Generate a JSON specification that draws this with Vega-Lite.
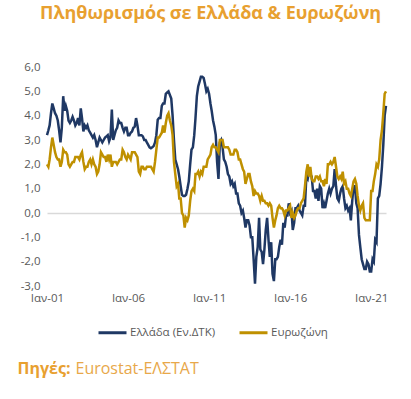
{
"$schema":"https://vega.github.io/schema/vega-lite/v6.json",
"width":339,"height":219,
"autosize":"none",
"padding":{"left":47,"top":67,"right":25,"bottom":113},
"background":"white",
"config":{"view":{"stroke":null},"font":"Open Sans"},
"title":{"text":"Πληθωρισμός σε Ελλάδα & Ευρωζώνη","color":"#E8A030","fontSize":18,"fontWeight":"bold","anchor":"start","frame":"group","offset":38,"dx":-7},
"data":{"values":[
{"d":"2001-01-01","gr":3.2,"ea":2.0},{"d":"2001-02-01","gr":3.4,"ea":1.9},{"d":"2001-03-01","gr":3.6,"ea":2.2},{"d":"2001-04-01","gr":4.1,"ea":2.7},{"d":"2001-05-01","gr":4.5,"ea":3.1},{"d":"2001-06-01","gr":4.3,"ea":2.8},{"d":"2001-07-01","gr":4.1,"ea":2.5},{"d":"2001-08-01","gr":4.0,"ea":2.3},{"d":"2001-09-01","gr":3.8,"ea":2.2},{"d":"2001-10-01","gr":3.4,"ea":2.2},{"d":"2001-11-01","gr":2.9,"ea":1.9},{"d":"2001-12-01","gr":3.5,"ea":2.1},
{"d":"2002-01-01","gr":4.8,"ea":2.6},{"d":"2002-02-01","gr":4.2,"ea":2.5},{"d":"2002-03-01","gr":4.4,"ea":2.5},{"d":"2002-04-01","gr":4.2,"ea":2.4},{"d":"2002-05-01","gr":3.8,"ea":2.0},{"d":"2002-06-01","gr":3.7,"ea":1.9},{"d":"2002-07-01","gr":3.8,"ea":2.0},{"d":"2002-08-01","gr":3.95,"ea":2.1},{"d":"2002-09-01","gr":3.8,"ea":2.1},{"d":"2002-10-01","gr":3.6,"ea":2.3},{"d":"2002-11-01","gr":3.7,"ea":2.3},{"d":"2002-12-01","gr":3.9,"ea":2.3},
{"d":"2003-01-01","gr":3.6,"ea":2.2},{"d":"2003-02-01","gr":4.3,"ea":2.4},{"d":"2003-03-01","gr":3.9,"ea":2.5},{"d":"2003-04-01","gr":3.35,"ea":2.1},{"d":"2003-05-01","gr":3.6,"ea":1.8},{"d":"2003-06-01","gr":3.5,"ea":1.9},{"d":"2003-07-01","gr":3.6,"ea":1.9},{"d":"2003-08-01","gr":3.4,"ea":2.1},{"d":"2003-09-01","gr":3.3,"ea":2.2},{"d":"2003-10-01","gr":3.2,"ea":2.0},{"d":"2003-11-01","gr":3.1,"ea":2.2},{"d":"2003-12-01","gr":3.2,"ea":2.0},
{"d":"2004-01-01","gr":3.0,"ea":1.9},{"d":"2004-02-01","gr":2.7,"ea":1.6},{"d":"2004-03-01","gr":2.9,"ea":1.7},{"d":"2004-04-01","gr":3.1,"ea":2.0},{"d":"2004-05-01","gr":3.0,"ea":2.5},{"d":"2004-06-01","gr":2.9,"ea":2.4},{"d":"2004-07-01","gr":3.0,"ea":2.3},{"d":"2004-08-01","gr":3.1,"ea":2.3},{"d":"2004-09-01","gr":3.15,"ea":2.1},{"d":"2004-10-01","gr":3.2,"ea":2.4},{"d":"2004-11-01","gr":2.95,"ea":2.2},{"d":"2004-12-01","gr":3.1,"ea":2.4},
{"d":"2005-01-01","gr":4.25,"ea":1.9},{"d":"2005-02-01","gr":3.0,"ea":2.1},{"d":"2005-03-01","gr":3.2,"ea":2.1},{"d":"2005-04-01","gr":3.4,"ea":2.1},{"d":"2005-05-01","gr":3.5,"ea":2.0},{"d":"2005-06-01","gr":3.8,"ea":2.1},{"d":"2005-07-01","gr":3.7,"ea":2.2},{"d":"2005-08-01","gr":3.7,"ea":2.2},{"d":"2005-09-01","gr":3.5,"ea":2.6},{"d":"2005-10-01","gr":3.35,"ea":2.5},{"d":"2005-11-01","gr":3.5,"ea":2.3},{"d":"2005-12-01","gr":3.5,"ea":2.2},
{"d":"2006-01-01","gr":3.2,"ea":2.4},{"d":"2006-02-01","gr":3.2,"ea":2.3},{"d":"2006-03-01","gr":3.3,"ea":2.2},{"d":"2006-04-01","gr":3.35,"ea":2.5},{"d":"2006-05-01","gr":3.5,"ea":2.5},{"d":"2006-06-01","gr":3.55,"ea":2.5},{"d":"2006-07-01","gr":3.9,"ea":2.4},{"d":"2006-08-01","gr":3.6,"ea":2.3},{"d":"2006-09-01","gr":3.2,"ea":1.7},{"d":"2006-10-01","gr":3.2,"ea":1.6},{"d":"2006-11-01","gr":3.2,"ea":1.9},{"d":"2006-12-01","gr":3.15,"ea":1.9},
{"d":"2007-01-01","gr":3.0,"ea":1.8},{"d":"2007-02-01","gr":3.0,"ea":1.8},{"d":"2007-03-01","gr":2.9,"ea":1.9},{"d":"2007-04-01","gr":2.8,"ea":1.9},{"d":"2007-05-01","gr":2.7,"ea":1.9},{"d":"2007-06-01","gr":2.66,"ea":1.9},{"d":"2007-07-01","gr":2.7,"ea":1.8},{"d":"2007-08-01","gr":2.75,"ea":1.7},{"d":"2007-09-01","gr":2.9,"ea":2.1},{"d":"2007-10-01","gr":3.2,"ea":2.6},{"d":"2007-11-01","gr":3.83,"ea":3.1},{"d":"2007-12-01","gr":3.9,"ea":3.1},
{"d":"2008-01-01","gr":3.9,"ea":3.2},{"d":"2008-02-01","gr":4.4,"ea":3.3},{"d":"2008-03-01","gr":4.5,"ea":3.6},{"d":"2008-04-01","gr":4.5,"ea":3.3},{"d":"2008-05-01","gr":4.9,"ea":3.7},{"d":"2008-06-01","gr":4.95,"ea":4.0},{"d":"2008-07-01","gr":5.0,"ea":4.1},{"d":"2008-08-01","gr":4.85,"ea":3.8},{"d":"2008-09-01","gr":4.7,"ea":3.6},{"d":"2008-10-01","gr":4.0,"ea":3.2},{"d":"2008-11-01","gr":3.0,"ea":2.1},{"d":"2008-12-01","gr":2.2,"ea":1.6},
{"d":"2009-01-01","gr":2.0,"ea":1.1},{"d":"2009-02-01","gr":1.8,"ea":1.2},{"d":"2009-03-01","gr":1.5,"ea":0.6},{"d":"2009-04-01","gr":1.1,"ea":0.6},{"d":"2009-05-01","gr":0.75,"ea":0.0},{"d":"2009-06-01","gr":0.7,"ea":-0.1},{"d":"2009-07-01","gr":0.7,"ea":-0.6},{"d":"2009-08-01","gr":0.75,"ea":-0.2},{"d":"2009-09-01","gr":1.0,"ea":-0.3},{"d":"2009-10-01","gr":1.3,"ea":-0.1},{"d":"2009-11-01","gr":2.0,"ea":0.5},{"d":"2009-12-01","gr":2.6,"ea":0.9},
{"d":"2010-01-01","gr":2.7,"ea":1.0},{"d":"2010-02-01","gr":3.2,"ea":0.9},{"d":"2010-03-01","gr":3.9,"ea":1.6},{"d":"2010-04-01","gr":4.8,"ea":1.6},{"d":"2010-05-01","gr":5.2,"ea":1.7},{"d":"2010-06-01","gr":5.4,"ea":1.5},{"d":"2010-07-01","gr":5.6,"ea":1.7},{"d":"2010-08-01","gr":5.6,"ea":1.6},{"d":"2010-09-01","gr":5.55,"ea":1.9},{"d":"2010-10-01","gr":5.3,"ea":1.9},{"d":"2010-11-01","gr":5.0,"ea":1.9},{"d":"2010-12-01","gr":5.1,"ea":2.2},
{"d":"2011-01-01","gr":4.9,"ea":2.3},{"d":"2011-02-01","gr":4.5,"ea":2.4},{"d":"2011-03-01","gr":4.2,"ea":2.7},{"d":"2011-04-01","gr":3.8,"ea":2.8},{"d":"2011-05-01","gr":3.55,"ea":2.7},{"d":"2011-06-01","gr":3.2,"ea":2.7},{"d":"2011-07-01","gr":2.1,"ea":2.6},{"d":"2011-08-01","gr":1.4,"ea":2.5},{"d":"2011-09-01","gr":2.9,"ea":3.0},{"d":"2011-10-01","gr":3.0,"ea":3.0},{"d":"2011-11-01","gr":2.7,"ea":3.0},{"d":"2011-12-01","gr":2.2,"ea":2.7},
{"d":"2012-01-01","gr":2.1,"ea":2.7},{"d":"2012-02-01","gr":1.9,"ea":2.7},{"d":"2012-03-01","gr":1.6,"ea":2.7},{"d":"2012-04-01","gr":1.5,"ea":2.6},{"d":"2012-05-01","gr":1.2,"ea":2.4},{"d":"2012-06-01","gr":1.3,"ea":2.4},{"d":"2012-07-01","gr":1.1,"ea":2.4},{"d":"2012-08-01","gr":1.2,"ea":2.6},{"d":"2012-09-01","gr":0.8,"ea":2.6},{"d":"2012-10-01","gr":0.8,"ea":2.5},{"d":"2012-11-01","gr":0.4,"ea":2.2},{"d":"2012-12-01","gr":0.3,"ea":2.2},
{"d":"2013-01-01","gr":0.0,"ea":2.0},{"d":"2013-02-01","gr":0.1,"ea":1.8},{"d":"2013-03-01","gr":-0.2,"ea":1.7},{"d":"2013-04-01","gr":-0.6,"ea":1.2},{"d":"2013-05-01","gr":-0.3,"ea":1.4},{"d":"2013-06-01","gr":-0.3,"ea":1.6},{"d":"2013-07-01","gr":-0.5,"ea":1.6},{"d":"2013-08-01","gr":-1.0,"ea":1.3},{"d":"2013-09-01","gr":-1.0,"ea":1.1},{"d":"2013-10-01","gr":-1.9,"ea":0.7},{"d":"2013-11-01","gr":-2.9,"ea":0.9},{"d":"2013-12-01","gr":-1.8,"ea":0.8},
{"d":"2014-01-01","gr":-1.4,"ea":0.8},{"d":"2014-02-01","gr":-0.2,"ea":0.7},{"d":"2014-03-01","gr":-1.5,"ea":0.5},{"d":"2014-04-01","gr":-1.6,"ea":0.7},{"d":"2014-05-01","gr":-2.1,"ea":0.5},{"d":"2014-06-01","gr":-1.5,"ea":0.5},{"d":"2014-07-01","gr":-0.7,"ea":0.4},{"d":"2014-08-01","gr":-0.2,"ea":0.4},{"d":"2014-09-01","gr":-1.1,"ea":0.3},{"d":"2014-10-01","gr":-1.8,"ea":0.4},{"d":"2014-11-01","gr":-1.2,"ea":0.3},{"d":"2014-12-01","gr":-2.5,"ea":-0.2},
{"d":"2015-01-01","gr":-2.8,"ea":-0.6},{"d":"2015-02-01","gr":-1.9,"ea":-0.3},{"d":"2015-03-01","gr":-1.9,"ea":-0.1},{"d":"2015-04-01","gr":-1.8,"ea":0.2},{"d":"2015-05-01","gr":-1.4,"ea":0.3},{"d":"2015-06-01","gr":-1.1,"ea":0.2},{"d":"2015-07-01","gr":-1.3,"ea":0.2},{"d":"2015-08-01","gr":-0.4,"ea":0.1},{"d":"2015-09-01","gr":-0.6,"ea":-0.1},{"d":"2015-10-01","gr":-0.1,"ea":0.1},{"d":"2015-11-01","gr":-0.1,"ea":0.1},{"d":"2015-12-01","gr":0.4,"ea":0.2},
{"d":"2016-01-01","gr":0.0,"ea":0.3},{"d":"2016-02-01","gr":0.1,"ea":-0.2},{"d":"2016-03-01","gr":-0.7,"ea":0.0},{"d":"2016-04-01","gr":-0.4,"ea":-0.2},{"d":"2016-05-01","gr":0.2,"ea":-0.1},{"d":"2016-06-01","gr":0.2,"ea":0.1},{"d":"2016-07-01","gr":0.3,"ea":0.2},{"d":"2016-08-01","gr":0.1,"ea":0.2},{"d":"2016-09-01","gr":0.0,"ea":0.4},{"d":"2016-10-01","gr":-0.1,"ea":0.5},{"d":"2016-11-01","gr":0.3,"ea":0.6},{"d":"2016-12-01","gr":0.3,"ea":1.1},
{"d":"2017-01-01","gr":1.5,"ea":1.7},{"d":"2017-02-01","gr":1.4,"ea":2.0},{"d":"2017-03-01","gr":1.7,"ea":1.5},{"d":"2017-04-01","gr":1.6,"ea":1.9},{"d":"2017-05-01","gr":1.5,"ea":1.4},{"d":"2017-06-01","gr":0.9,"ea":1.3},{"d":"2017-07-01","gr":0.9,"ea":1.3},{"d":"2017-08-01","gr":0.6,"ea":1.5},{"d":"2017-09-01","gr":1.0,"ea":1.5},{"d":"2017-10-01","gr":0.5,"ea":1.4},{"d":"2017-11-01","gr":1.1,"ea":1.5},{"d":"2017-12-01","gr":1.0,"ea":1.3},
{"d":"2018-01-01","gr":0.2,"ea":1.3},{"d":"2018-02-01","gr":0.4,"ea":1.1},{"d":"2018-03-01","gr":0.2,"ea":1.4},{"d":"2018-04-01","gr":0.5,"ea":1.2},{"d":"2018-05-01","gr":0.8,"ea":2.0},{"d":"2018-06-01","gr":1.0,"ea":2.0},{"d":"2018-07-01","gr":0.8,"ea":2.1},{"d":"2018-08-01","gr":1.0,"ea":2.0},{"d":"2018-09-01","gr":1.1,"ea":2.1},{"d":"2018-10-01","gr":1.8,"ea":2.3},{"d":"2018-11-01","gr":1.1,"ea":1.9},{"d":"2018-12-01","gr":0.6,"ea":1.5},
{"d":"2019-01-01","gr":0.5,"ea":1.4},{"d":"2019-02-01","gr":0.8,"ea":1.5},{"d":"2019-03-01","gr":1.0,"ea":1.4},{"d":"2019-04-01","gr":1.1,"ea":1.7},{"d":"2019-05-01","gr":0.6,"ea":1.2},{"d":"2019-06-01","gr":0.2,"ea":1.3},{"d":"2019-07-01","gr":0.3,"ea":1.0},{"d":"2019-08-01","gr":0.1,"ea":1.0},{"d":"2019-09-01","gr":0.2,"ea":0.8},{"d":"2019-10-01","gr":-0.3,"ea":0.7},{"d":"2019-11-01","gr":0.5,"ea":1.0},{"d":"2019-12-01","gr":1.1,"ea":1.3},
{"d":"2020-01-01","gr":1.1,"ea":1.4},{"d":"2020-02-01","gr":0.4,"ea":1.2},{"d":"2020-03-01","gr":0.2,"ea":0.7},{"d":"2020-04-01","gr":-0.9,"ea":0.3},{"d":"2020-05-01","gr":-1.4,"ea":0.1},{"d":"2020-06-01","gr":-1.9,"ea":0.3},{"d":"2020-07-01","gr":-2.1,"ea":0.4},{"d":"2020-08-01","gr":-2.3,"ea":-0.2},{"d":"2020-09-01","gr":-2.3,"ea":-0.3},{"d":"2020-10-01","gr":-2.0,"ea":-0.3},{"d":"2020-11-01","gr":-2.1,"ea":-0.3},{"d":"2020-12-01","gr":-2.4,"ea":-0.3},
{"d":"2021-01-01","gr":-2.4,"ea":0.9},{"d":"2021-02-01","gr":-1.9,"ea":0.9},{"d":"2021-03-01","gr":-2.0,"ea":1.3},{"d":"2021-04-01","gr":-1.1,"ea":1.6},{"d":"2021-05-01","gr":-1.2,"ea":2.0},{"d":"2021-06-01","gr":0.6,"ea":1.9},{"d":"2021-07-01","gr":0.7,"ea":2.2},{"d":"2021-08-01","gr":1.2,"ea":3.0},{"d":"2021-09-01","gr":1.9,"ea":3.4},{"d":"2021-10-01","gr":2.8,"ea":4.1},{"d":"2021-11-01","gr":4.0,"ea":4.9},{"d":"2021-12-01","gr":4.4,"ea":5.0}
]},
"transform":[{"fold":["gr","ea"],"as":["key","v"]}],
"mark":{"type":"line","strokeWidth":2.5},
"encoding":{
"x":{"field":"d","type":"temporal","scale":{"type":"utc","nice":false,"domain":[{"year":2001,"month":1,"date":1,"utc":true},{"year":2021,"month":12,"date":1,"utc":true}]},
"axis":{"values":[{"year":2001,"month":1,"date":1,"utc":true},{"year":2006,"month":1,"date":1,"utc":true},{"year":2011,"month":1,"date":1,"utc":true},{"year":2016,"month":1,"date":1,"utc":true},{"year":2021,"month":1,"date":1,"utc":true}],
"labelExpr":"'Ιαν-' + utcFormat(datum.value, '%y')","labelFlush":false,"domain":false,"ticks":false,"grid":false,"labelPadding":6,"labelColor":"#595959","labelFontSize":11.5,
"title":"Eurostat-ΕΛΣΤΑΤ","titleX":28,"titleY":87,"titleAlign":"left","titleAnchor":"start","titleBaseline":"alphabetic","titleFontSize":16,"titleFontWeight":"normal","titleColor":"#E8A84A"}},
"y":{"field":"v","type":"quantitative","scale":{"domain":[-3,6],"nice":false,"zero":false},
"axis":{"values":[-3,-2,-1,0,1,2,3,4,5,6],"labelExpr":"(datum.value < 0 ? '-' : '') + abs(datum.value) + ',0'","domain":false,"ticks":false,"grid":true,"gridColor":"#D9D9D9","gridWidth":1.5,"gridOpacity":{"condition":{"test":"datum.value === 0","value":1},"value":0},"labelPadding":7,"labelColor":"#595959","labelFontSize":11.5,
"title":"Πηγές:","titleAngle":0,"titleX":-30,"titleY":306,"titleAlign":"left","titleAnchor":"start","titleBaseline":"alphabetic","titleFontSize":16,"titleFontWeight":"bold","titleColor":"#E8A030"}},
"color":{"field":"key","type":"nominal","scale":{"domain":["gr","ea"],"range":["#1F3864","#BF9000"]},
"legend":{"orient":"none","legendX":50,"legendY":250,"direction":"horizontal","title":null,"symbolType":"stroke","symbolSize":784,"symbolStrokeWidth":3,"labelExpr":"datum.label == 'gr' ? 'Ελλάδα (Εν.ΔΤΚ)' : 'Ευρωζώνη'","labelColor":"#595959","labelFontSize":11.5,"columnPadding":17,"labelOffset":2}}
}
}
